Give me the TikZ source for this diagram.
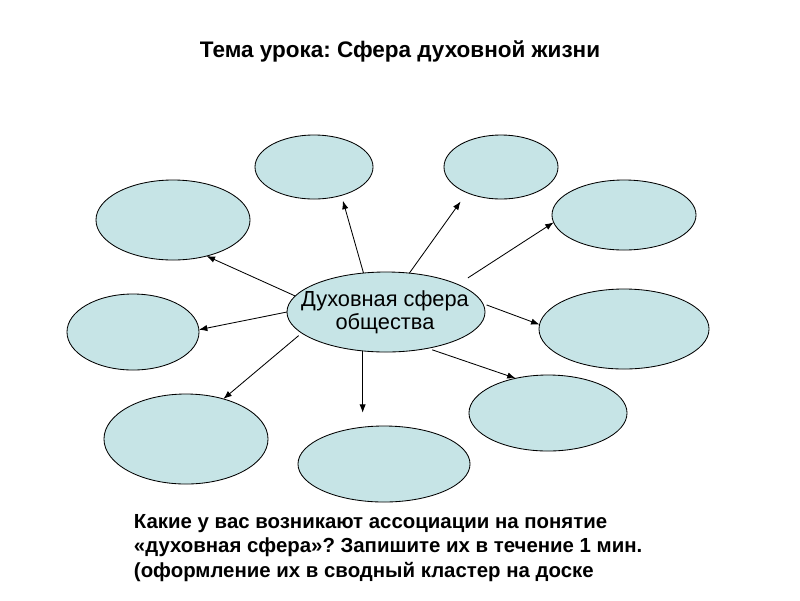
\documentclass[tikz,border=0pt]{standalone}
\usepackage{fontspec}
\setmainfont{Liberation Sans}
\frenchspacing
\usetikzlibrary{shapes.geometric,arrows.meta}
\definecolor{bubblefill}{RGB}{198,228,230}
\tikzset{
  bubble/.style={ellipse,draw,fill=bubblefill,line width=0.6pt,inner sep=0pt,outer sep=0pt},
  arr/.style={line width=0.6pt,-{Latex[length=6pt,width=4.5pt]}}
}
\begin{document}
\begin{tikzpicture}[x=0.025cm,y=-0.025cm]
\useasboundingbox (0,0) rectangle (800,600);
% Title
\node[font=\fontsize{16}{19}\selectfont\bfseries] (title) at (400,51) {Тема урока: Сфера духовной жизни};
% Centre
\node[bubble,minimum width=4.95cm,minimum height=2cm] (c) at (386,312) {};
\node[font=\fontsize{15.5}{16.5}\selectfont,align=center] (ctext) at (385,312) {Духовная сфера\\общества};
% Outer bubbles
\node[bubble,minimum width=2.95cm,minimum height=1.6cm] (tcl) at (314,167) {};
\node[bubble,minimum width=2.85cm,minimum height=1.6cm] (tcr) at (501,167) {};
\node[bubble,minimum width=3.85cm,minimum height=2cm] (tl) at (173,220) {};
\node[bubble,minimum width=3.6cm,minimum height=1.75cm] (tr) at (624,215) {};
\node[bubble,minimum width=3.3cm,minimum height=1.9cm] (ml) at (133,332) {};
\node[bubble,minimum width=4.25cm,minimum height=2cm] (mr) at (624,329) {};
\node[bubble,minimum width=4.1cm,minimum height=2.25cm] (bl) at (186,439) {};
\node[bubble,minimum width=4.3cm,minimum height=1.9cm] (bc) at (384,464) {};
\node[bubble,minimum width=3.95cm,minimum height=1.9cm] (br) at (548,413) {};
% Arrows
\draw[arr,shorten >=0.14cm] (c.120) -- (tcl.-46);
\draw[arr,shorten >=0.27cm] (c.59) -- (tcr.217);
\draw[arr,shorten <=0.3cm] (c.21) -- (tr.186);
\draw[arr] (c.170) -- (tl.-47);
\draw[arr] (c.180) -- (ml.2);
\draw[arr,shorten <=0.1cm] (c.194) -- (bl.47);
\draw[arr,shorten >=0.33cm] (c.239) -- (c.239 |- bc.north);
\draw[arr,shorten <=0.12cm] (c.-41) -- (br.133);
\draw[arr,shorten <=0.1cm] (c.5) -- (mr.177);
% Question
\node[font=\fontsize{14.5}{17.7}\selectfont\bfseries,align=left,anchor=west] (question) at (129,548) {Какие у вас возникают ассоциации на понятие\\«духовная сфера»? Запишите их в течение 1 мин.\\(оформление их в сводный кластер на доске};
\end{tikzpicture}
\end{document}
